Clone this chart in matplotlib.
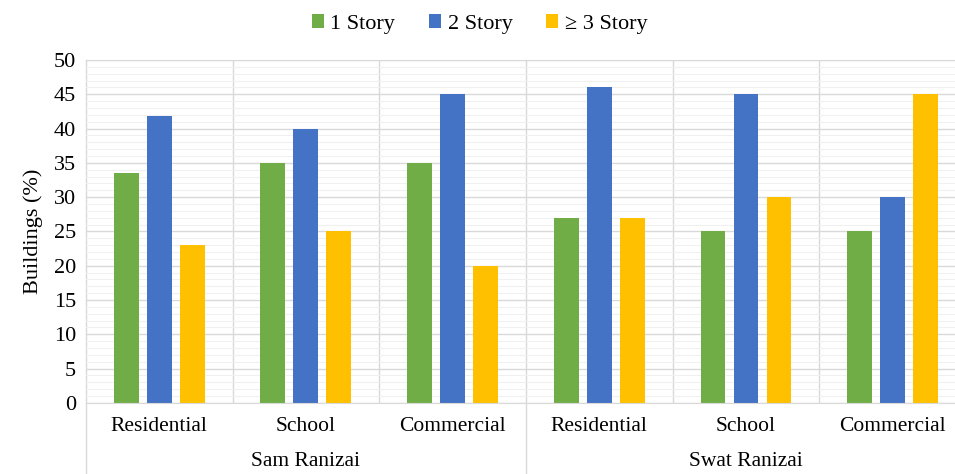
import numpy as np
import matplotlib
matplotlib.use("Agg")
import matplotlib.pyplot as plt
from matplotlib.ticker import MultipleLocator
import matplotlib.transforms as mtransforms

plt.rcParams['font.family'] = ['Liberation Serif', 'DejaVu Serif']

categories = ['Residential', 'School', 'Commercial', 'Residential', 'School', 'Commercial']
groups = ['Sam Ranizai', 'Swat Ranizai']
series_names = ['1 Story', '2 Story', '\u2265 3 Story']
one_story = [33.5, 35, 35, 27, 25, 25]
two_story = [41.8, 40, 45, 46, 45, 30]
three_story = [23, 25, 20, 27, 30, 45]
colors = ['#70AD47', '#4472C4', '#FFC000']

fig = plt.figure(figsize=(9.55, 4.74), dpi=100)
ax = fig.add_axes([0.090, 0.150, 0.9215, 0.7235])

x = np.arange(len(categories))
width = 0.17
step = 0.225
for i, (vals, name, c) in enumerate(zip([one_story, two_story, three_story], series_names, colors)):
    ax.bar(x + (i - 1) * step, vals, width, color=c, label=name, zorder=3)

ax.set_xlim(-0.5, len(categories) - 0.5)
ax.set_ylim(0, 50)
ax.yaxis.set_major_locator(MultipleLocator(5))
ax.yaxis.set_minor_locator(MultipleLocator(1))
ax.grid(axis='y', which='major', color='#D9D9D9', linewidth=1.0, zorder=0)
ax.grid(axis='y', which='minor', color='#F0F0F0', linewidth=0.8, zorder=0)
ax.tick_params(axis='y', which='both', length=0, labelsize=16, pad=7)
ax.set_xticks([])
for s in ['top', 'right', 'left']:
    ax.spines[s].set_visible(False)
ax.spines['bottom'].set_color('#D9D9D9')
ax.spines['bottom'].set_zorder(4)
ax.set_ylabel('Buildings (%)', fontsize=16, labelpad=8)

trans = mtransforms.blended_transform_factory(ax.transData, ax.transAxes)
# category separators
for b in [0.5, 1.5, 3.5, 4.5]:
    ax.plot([b, b], [0, 1], transform=trans, color='#D9D9D9', linewidth=1.0, zorder=1)
# group separators extend below the axis
for b in [-0.5, 2.5]:
    ax.plot([b, b], [-0.21, 1], transform=trans, color='#D9D9D9', linewidth=1.0,
            zorder=1, clip_on=False)
ax.plot([-0.5, 5.5], [1, 1], transform=trans, color='#E6E6E6', linewidth=0.8, zorder=1, clip_on=False)

for xi, lab in zip(x, categories):
    ax.text(xi, -0.07, lab, transform=trans, ha='center', va='center', fontsize=15.5)
for gi, g in enumerate(groups):
    ax.text(gi * 3 + 1, -0.172, g, transform=trans, ha='center', va='center', fontsize=15.5)

fig.legend(loc='upper center', bbox_to_anchor=(0.502, 1.012), ncol=3, frameon=False,
           fontsize=16, handlelength=0.55, handleheight=0.55, handletextpad=0.3,
           columnspacing=1.5)

fig.savefig('out.png', dpi=100)
